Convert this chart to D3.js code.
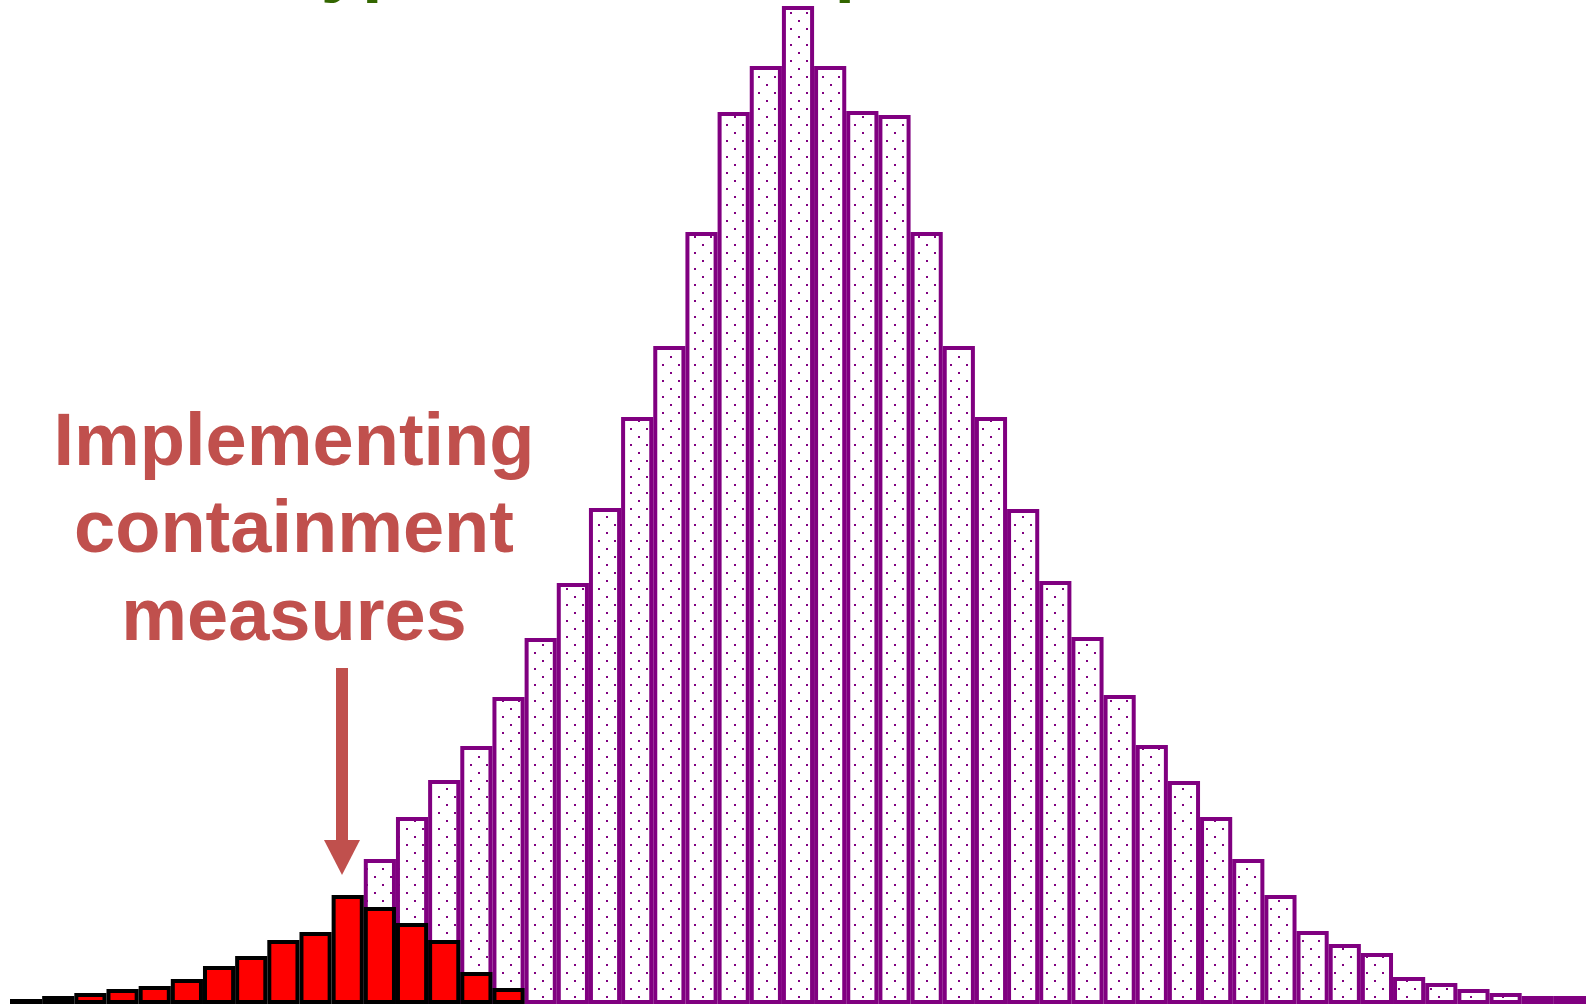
<!DOCTYPE html>
<html>
<head>
<meta charset="utf-8">
<script src="https://cdn.jsdelivr.net/npm/d3@7"></script>
<style>
  html, body { margin: 0; padding: 0; background: #ffffff; }
  svg { display: block; }
</style>
</head>
<body>
<svg id="chart" width="1586" height="1006"></svg>
<script>
// Time periods (bins). Negative bins precede the onset of the large wave.
const periods = d3.range(-11, 38);

// Uncontrolled epidemic: cases per period, bins 0..37
const epidemicBins = d3.range(0, 38);
const epidemicCases = [141, 183, 220, 254, 303, 362, 417, 492, 583, 654,
                       768, 888, 934, 994, 934, 889, 885, 768, 654, 583,
                       491, 419, 363, 305, 255, 219, 183, 141, 105, 69,
                       56, 47, 23, 17, 11, 7, 4, 4];

// Outbreak under containment measures: cases per period, bins -11..4
const containedBins = d3.range(-11, 5);
const containedCases = [1, 4, 7, 11, 14, 21, 34, 44, 60, 68, 105,
                        93, 77, 60, 28, 12];

const titleText = "Typical SARS epidemic";
const annotationLines = ["Implementing", "containment", "measures"];

const W = 1586, H = 1006;
const svg = d3.select("#chart");

const x = d3.scaleBand().domain(periods).range([10, W]).padding(0);
const y = d3.scaleLinear().domain([0, 1000]).range([1002, 2]);
const bw = x.bandwidth();

// dotted fill for the epidemic bars
const defs = svg.append("defs");
const pat = defs.append("pattern")
  .attr("id", "dots")
  .attr("patternUnits", "userSpaceOnUse")
  .attr("width", 16).attr("height", 16);
pat.append("rect").attr("width", 16).attr("height", 16).attr("fill", "#ffffff");
pat.append("rect").attr("x", 6).attr("y", 12).attr("width", 2).attr("height", 2).attr("fill", "#800080");
pat.append("rect").attr("x", 14).attr("y", 4).attr("width", 2).attr("height", 2).attr("fill", "#800080");

// title line (runs off the top edge)
const title = svg.append("text")
  .attr("y", -12)
  .attr("font-family", "'Liberation Sans', Arial, sans-serif")
  .attr("font-weight", "bold")
  .attr("font-size", 74)
  .attr("word-spacing", 8)
  .attr("fill", "#336600")
  .text(titleText);
const pStart = title.node().getStartPositionOfChar(2).x;
title.attr("x", 362 - pStart);

// epidemic bars
const epidemic = epidemicBins.map((b, i) => ({ bin: b, v: epidemicCases[i] }));
svg.append("g").selectAll("rect")
  .data(epidemic)
  .join("rect")
  .attr("x", d => x(d.bin) + 2)
  .attr("width", bw - 4)
  .attr("y", d => y(d.v))
  .attr("height", d => y(0) - y(d.v))
  .attr("fill", "url(#dots)")
  .attr("stroke", "#800080")
  .attr("stroke-width", 4);

// contained outbreak bars
const contained = containedBins.map((b, i) => ({ bin: b, v: containedCases[i] }));
svg.append("g").selectAll("rect")
  .data(contained)
  .join("rect")
  .attr("x", d => x(d.bin) + 2)
  .attr("width", bw - 4)
  .attr("y", d => y(d.v))
  .attr("height", d => y(0) - y(d.v))
  .attr("fill", "#ff0000")
  .attr("stroke", "#000000")
  .attr("stroke-width", 4);

// annotation text
const note = svg.append("text")
  .attr("text-anchor", "middle")
  .attr("font-family", "'Liberation Sans', Arial, sans-serif")
  .attr("font-weight", "bold")
  .attr("font-size", 74)
  .attr("fill", "#c0504d");
const lineY = [465, 552, 640];
annotationLines.forEach((t, i) => {
  note.append("tspan").attr("x", 294).attr("y", lineY[i]).text(t);
});

// annotation arrow
const arrow = svg.append("g").attr("fill", "#c0504d");
arrow.append("rect").attr("x", 336).attr("y", 668).attr("width", 12).attr("height", 174);
arrow.append("path").attr("d", "M324,840 L360,840 L342,875 Z");
</script>
</body>
</html>
